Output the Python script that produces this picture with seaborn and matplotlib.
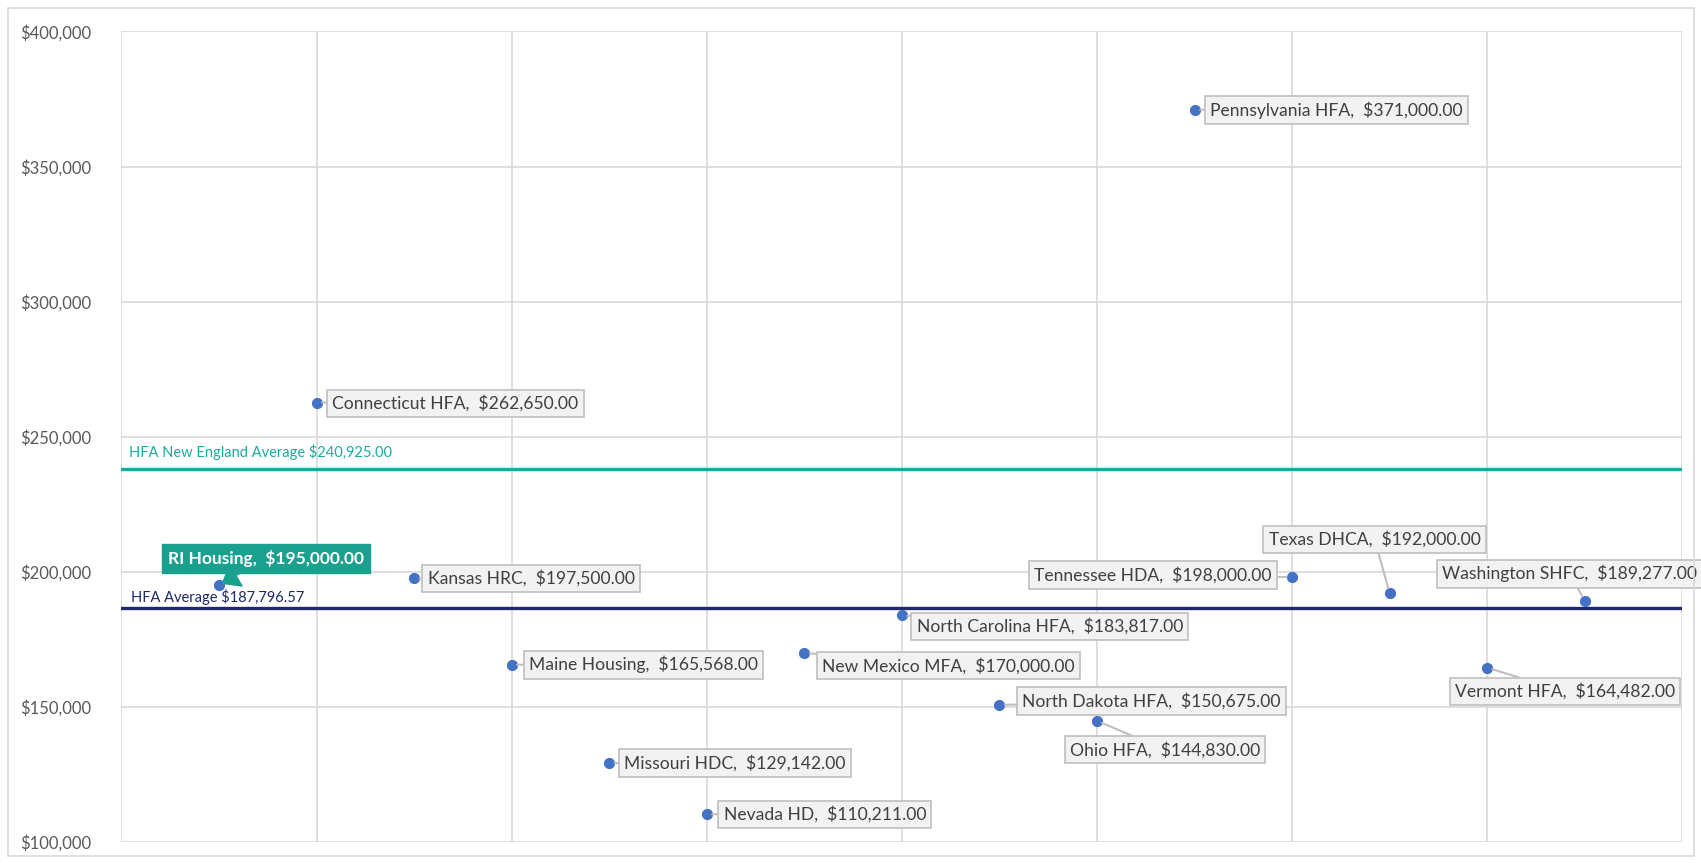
import seaborn as sns
import pandas as pd
import matplotlib.pyplot as plt
from matplotlib.patches import Rectangle
from matplotlib.ticker import FuncFormatter

# Data
agencies = ['RI Housing', 'Connecticut HFA', 'Kansas HRC', 'Maine Housing', 'Missouri HDC',
            'Nevada HD', 'New Mexico MFA', 'North Carolina HFA', 'North Dakota HFA', 'Ohio HFA',
            'Pennsylvania HFA', 'Tennessee HDA', 'Texas DHCA', 'Vermont HFA', 'Washington SHFC']
positions = [1, 2, 3, 4, 5, 6, 7, 8, 9, 10, 11, 12, 13, 14, 15]
amounts = [195000, 262650, 197500, 165568, 129142, 110211, 170000, 183817, 150675, 144830,
           371000, 198000, 192000, 164482, 189277]
y_ticks = [100000, 150000, 200000, 250000, 300000, 350000, 400000]
ne_avg_label = 'HFA New England Average $240,925.00'
ne_avg_line = 237900
hfa_avg_label = 'HFA Average $187,796.57'
hfa_avg_line = 186500

# label offsets in pixels (dx, dy) from each point to label centre
label_offsets = [(47, 27), (139, -1), (117, 0), (132, 0), (126, 0), (118, 0), (144, -13),
                 (148, -11), (152, 4), (68, -29), (142, 0), (-139, 2), (-15, 54), (78, -24),
                 (-15, 27)]

df = pd.DataFrame({'agency': agencies, 'x': positions, 'amount': amounts})

sns.set_style('white')
plt.rcParams['font.family'] = ['Lato', 'DejaVu Sans']

fig = plt.figure(figsize=(17.01, 8.63), dpi=100)
ax = fig.add_axes([0.0714, 0.0245, 0.9176, 0.939])

# outer chart frame
fig.patches.append(Rectangle((8 / 1701, 7 / 863), 1686 / 1701, 848 / 863, transform=fig.transFigure,
                             fill=False, edgecolor='#d9d9d9', linewidth=1.2))

# average lines
ax.axhline(ne_avg_line, color='#1aab9b', linewidth=2.4, zorder=2)
ax.axhline(hfa_avg_line, color='#1f2868', linewidth=2.4, zorder=2)
ax.text(0.08, ne_avg_line + 3500, ne_avg_label, color='#1aab9b', fontsize=10.5, va='bottom', ha='left')
ax.text(0.1, hfa_avg_line + 1200, hfa_avg_label, color='#1f2868', fontsize=10.5, va='bottom', ha='left')

sns.scatterplot(data=df, x='x', y='amount', ax=ax, s=65, color='#4472c4', edgecolor='#4472c4',
                linewidth=0, zorder=4, legend=False)

for i, row in df.iterrows():
    dx, dy = label_offsets[i]
    txt = f"{row['agency']},  ${row['amount']:,.2f}"
    if row['agency'] == 'RI Housing':
        ax.annotate(txt, (row['x'], row['amount']), xytext=(dx, dy), textcoords='offset pixels',
                    ha='center', va='center', fontsize=12.5, fontweight='bold', color='white', zorder=6,
                    bbox=dict(boxstyle='square,pad=0.35', fc='#1aa08f', ec='#1aa08f'),
                    arrowprops=dict(arrowstyle='-|>,head_length=0.9,head_width=0.7', fc='#1aa08f',
                                    ec='#1aa08f', shrinkA=0, shrinkB=2))
    else:
        ax.annotate(txt, (row['x'], row['amount']), xytext=(dx, dy), textcoords='offset pixels',
                    ha='center', va='center', fontsize=12.6, color='#404040', zorder=5,
                    bbox=dict(boxstyle='square,pad=0.3', fc='#f2f2f2', ec='#bfbfbf', lw=1.2),
                    arrowprops=dict(arrowstyle='-', color='#bfbfbf', lw=1.5, shrinkA=0, shrinkB=4))

ax.set_xlim(0, 16)
ax.set_ylim(100000, 400000)
ax.set_xticks(range(0, 17, 2))
ax.set_yticks(y_ticks)
ax.set_xticklabels([])
ax.yaxis.set_major_formatter(FuncFormatter(lambda v, p: f'${v:,.0f}'))
ax.tick_params(axis='y', labelsize=12, labelcolor='#595959', length=0, pad=22)
ax.tick_params(axis='x', length=0)
ax.grid(True, color='#d9d9d9', linewidth=1.2)
ax.set_axisbelow(True)
for s in ax.spines.values():
    s.set_visible(False)
ax.set_xlabel('')
ax.set_ylabel('')

fig.savefig('out.png', dpi=100)
